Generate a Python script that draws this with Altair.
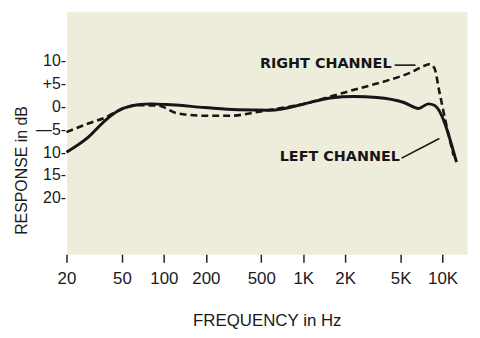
import altair as alt
import pandas as pd

# ---- data ----
left_freq = [20, 28.7, 38, 47, 65, 81, 113, 196, 337, 582, 1019, 1563, 2319, 3384, 5281, 6725, 7918, 8735, 12600]
left_db = [-10, -6.7, -3.0, -0.9, 0.4, 0.6, 0.4, -0.2, -0.7, -0.8, 0.6, 1.9, 2.2, 2.0, 0.9, -0.4, 0.6, 0.3, -12.2]

right_freq = [20, 28.7, 38, 47, 65, 90.8, 126, 196, 303, 446, 582, 1019, 1563, 2319, 3990, 5828, 7335, 8076, 8735, 9460, 10600, 12000]
right_db = [-5.6, -3.7, -2.4, -0.9, 0.3, 0.2, -1.5, -2.0, -2.0, -1.3, -0.7, 0.6, 2.2, 3.7, 5.7, 7.4, 8.9, 9.3, 8.5, 3.5, -3.7, -10.7]

x_ticks = [20, 50, 100, 200, 500, 1000, 2000, 5000, 10000]
x_tick_labels = ["20", "50", "100", "200", "500", "1K", "2K", "5K", "10K"]
y_ticks = [10, 5, 0, -5, -10, -15, -20]
y_tick_labels = ["10-", "+5-", "0-", "\u20145-", "10-", "15-", "20-"]

label_text = ["RIGHT CHANNEL", "LEFT CHANNEL"]
label_freq = [489, 678]
label_db = [9.35, -11.1]
leader_freq = [4540, 5093]
leader_freq2 = [6400, 9492]
leader_db = [9.1, -11.3]
leader_db2 = [9.1, -7.0]

FONT = "Liberation Sans, Arial, sans-serif"


def ternary(values, labels):
    expr = "''"
    for v, l in reversed(list(zip(values, labels))):
        expr = f"datum.value == {v} ? '{l}' : ({expr})"
    return expr


xscale = alt.Scale(type="log", domain=[20, 15000], nice=False)
yscale = alt.Scale(domain=[-32.4, 20.9], nice=False, zero=False)

x_axis = alt.Axis(
    values=x_ticks, labelExpr=ternary(x_ticks, x_tick_labels), domain=False, grid=False,
    ticks=True, tickSize=8, tickWidth=1.5, tickColor="#222", labelFont=FONT, labelFontSize=17,
    labelColor="#1a1a1a", labelPadding=8, labelFlush=False, labelOverlap=False,
    title="FREQUENCY in Hz", titleFont=FONT, titleFontSize=17, titleFontWeight="normal",
    titleColor="#1a1a1a", titleX=202, titleY=72, titleBaseline="alphabetic", titleAlign="center",
)
y_axis = alt.Axis(
    values=y_ticks, labelExpr=ternary(y_ticks, y_tick_labels), domain=False, grid=False,
    ticks=False, tickSize=0, labelFont=FONT, labelFontSize=16, labelColor="#1a1a1a",
    labelPadding=1, labelOverlap=False, labelFlush=False,
    title="RESPONSE in dB", titleFont=FONT, titleFontSize=16, titleFontWeight="normal",
    titleColor="#1a1a1a", titleX=-40, titleY=160, titleAngle=270, titleBaseline="alphabetic",
    titleAlign="center",
)

left_df = pd.DataFrame({"freq": left_freq, "db": left_db})
right_df = pd.DataFrame({"freq": right_freq, "db": right_db})
label_df = pd.DataFrame({"freq": label_freq, "db": label_db, "text": label_text})
leader_df = pd.DataFrame({"freq": leader_freq, "freq2": leader_freq2, "db": leader_db, "db2": leader_db2})

left_line = alt.Chart(left_df).mark_line(
    color="#161616", strokeWidth=3, interpolate="monotone"
).encode(
    x=alt.X("freq:Q", scale=xscale, axis=x_axis),
    y=alt.Y("db:Q", scale=yscale, axis=y_axis),
)

right_line = alt.Chart(right_df).mark_line(
    color="#161616", strokeWidth=2.6, strokeDash=[7, 4], interpolate="monotone"
).encode(
    x=alt.X("freq:Q", scale=xscale),
    y=alt.Y("db:Q", scale=yscale),
)

labels = alt.Chart(label_df).mark_text(
    align="left", baseline="middle", font="DejaVu Sans", fontWeight="bold",
    fontSize=14.5, color="#161616"
).encode(
    x=alt.X("freq:Q", scale=xscale),
    y=alt.Y("db:Q", scale=yscale),
    text="text:N",
)

leaders = alt.Chart(leader_df).mark_rule(color="#161616", strokeWidth=1.6).encode(
    x=alt.X("freq:Q", scale=xscale),
    x2="freq2:Q",
    y=alt.Y("db:Q", scale=yscale),
    y2="db2:Q",
)

chart = alt.layer(left_line, right_line, leaders, labels).properties(
    width=404, height=245,
    padding={"left": 59, "top": 2, "right": 5, "bottom": 75},
    autosize=alt.AutoSizeParams(type="none"),
    background="white",
).configure_view(fill="#eeeddb", stroke="transparent")

chart.save("out.html", embed_options={"renderer": "svg", "actions": False})
